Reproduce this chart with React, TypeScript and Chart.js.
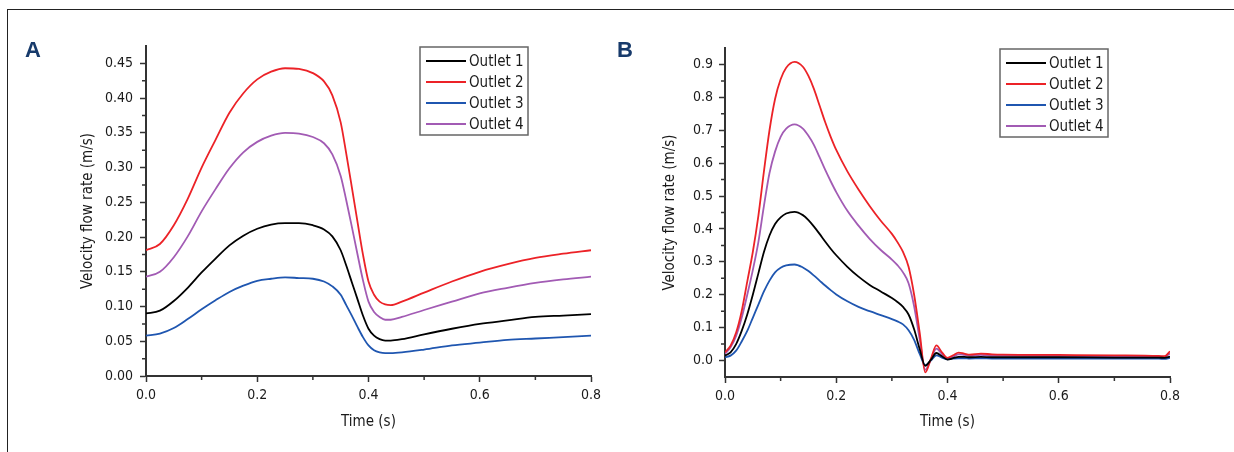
import React, { useEffect, useRef } from 'react';
import { Chart, registerables } from 'chart.js';

Chart.register(...registerables);

const FONT = "'Liberation Sans Narrow', 'DejaVu Sans Condensed', 'Arial Narrow', sans-serif";

const seriesLabels = ['Outlet 1', 'Outlet 2', 'Outlet 3', 'Outlet 4'];
const seriesColors = ['#000000', '#ec2227', '#1f56b0', '#a25bb4'];

// Panel A
const timeA = [0, 0.025, 0.05, 0.075, 0.1, 0.125, 0.15, 0.175, 0.2, 0.225, 0.25, 0.275, 0.3, 0.32, 0.335, 0.35, 0.36, 0.37, 0.38, 0.39, 0.4, 0.41, 0.42, 0.43, 0.44, 0.46, 0.5, 0.55, 0.6, 0.65, 0.7, 0.75, 0.8];
const outlet1A = [0.090, 0.094, 0.108, 0.127, 0.149, 0.169, 0.188, 0.202, 0.212, 0.218, 0.220, 0.220, 0.217, 0.211, 0.201, 0.181, 0.159, 0.135, 0.111, 0.087, 0.068, 0.058, 0.053, 0.051, 0.051, 0.053, 0.060, 0.068, 0.075, 0.080, 0.085, 0.087, 0.089];
const outlet2A = [0.181, 0.190, 0.217, 0.255, 0.300, 0.340, 0.379, 0.407, 0.427, 0.438, 0.443, 0.442, 0.436, 0.424, 0.404, 0.365, 0.320, 0.272, 0.223, 0.175, 0.136, 0.117, 0.107, 0.103, 0.102, 0.107, 0.120, 0.136, 0.150, 0.161, 0.170, 0.176, 0.181];
const outlet3A = [0.058, 0.061, 0.069, 0.082, 0.096, 0.109, 0.121, 0.130, 0.137, 0.140, 0.142, 0.141, 0.140, 0.136, 0.129, 0.117, 0.102, 0.087, 0.071, 0.056, 0.044, 0.037, 0.034, 0.033, 0.033, 0.034, 0.038, 0.044, 0.048, 0.052, 0.054, 0.056, 0.058];
const outlet4A = [0.143, 0.150, 0.171, 0.201, 0.237, 0.269, 0.299, 0.322, 0.337, 0.346, 0.350, 0.349, 0.344, 0.335, 0.319, 0.288, 0.253, 0.215, 0.176, 0.138, 0.107, 0.092, 0.085, 0.081, 0.081, 0.085, 0.095, 0.107, 0.119, 0.127, 0.134, 0.139, 0.143];

// Panel B
const timeB = [0, 0.01, 0.02, 0.03, 0.04, 0.05, 0.06, 0.07, 0.08, 0.09, 0.1, 0.11, 0.125, 0.14, 0.15, 0.16, 0.17, 0.18, 0.19, 0.2, 0.22, 0.24, 0.26, 0.28, 0.3, 0.31, 0.32, 0.33, 0.34, 0.35, 0.36, 0.37, 0.38, 0.39, 0.4, 0.41, 0.42, 0.43, 0.44, 0.46, 0.48, 0.5, 0.6, 0.7, 0.78, 0.79, 0.8];
const outlet1B = [0.015, 0.025, 0.05, 0.09, 0.14, 0.2, 0.265, 0.33, 0.38, 0.415, 0.435, 0.447, 0.452, 0.442, 0.427, 0.407, 0.385, 0.362, 0.34, 0.32, 0.285, 0.255, 0.23, 0.21, 0.19, 0.178, 0.163, 0.14, 0.095, 0.035, -0.016, 0.002, 0.023, 0.013, 0.003, 0.007, 0.011, 0.011, 0.010, 0.011, 0.010, 0.010, 0.010, 0.009, 0.009, 0.008, 0.012];
const outlet2B = [0.025, 0.045, 0.085, 0.15, 0.24, 0.33, 0.44, 0.575, 0.7, 0.795, 0.855, 0.89, 0.908, 0.893, 0.865, 0.825, 0.775, 0.725, 0.68, 0.64, 0.575, 0.52, 0.47, 0.425, 0.385, 0.36, 0.33, 0.285, 0.2, 0.085, -0.036, 0.005, 0.046, 0.025, 0.008, 0.016, 0.024, 0.021, 0.018, 0.021, 0.019, 0.018, 0.017, 0.016, 0.014, 0.013, 0.028];
const outlet3B = [0.01, 0.015, 0.03, 0.058, 0.09, 0.13, 0.17, 0.21, 0.243, 0.268, 0.282, 0.289, 0.292, 0.283, 0.272, 0.258, 0.243, 0.228, 0.214, 0.201, 0.18, 0.163, 0.15, 0.138, 0.126, 0.119, 0.11, 0.092, 0.063, 0.02, -0.014, 0.0, 0.016, 0.009, 0.004, 0.006, 0.007, 0.007, 0.006, 0.007, 0.006, 0.006, 0.006, 0.006, 0.006, 0.005, 0.008];
const outlet4B = [0.02, 0.04, 0.075, 0.13, 0.2, 0.275, 0.36, 0.47, 0.57, 0.635, 0.68, 0.705, 0.718, 0.705, 0.683, 0.655, 0.618, 0.58, 0.545, 0.512, 0.455, 0.41, 0.37, 0.336, 0.307, 0.29, 0.268, 0.235, 0.165, 0.065, -0.028, 0.003, 0.036, 0.02, 0.006, 0.012, 0.019, 0.017, 0.015, 0.017, 0.015, 0.015, 0.014, 0.013, 0.012, 0.011, 0.022];

// Ticks
const xTicks = [0, 0.2, 0.4, 0.6, 0.8];
const xTickLabels = ['0.0', '0.2', '0.4', '0.6', '0.8'];
const xMinorTicks = [0.1, 0.3, 0.5, 0.7];
const yTicksA = [0, 0.05, 0.1, 0.15, 0.2, 0.25, 0.3, 0.35, 0.4, 0.45];
const yTickLabelsA = ['0.00', '0.05', '0.10', '0.15', '0.20', '0.25', '0.30', '0.35', '0.40', '0.45'];
const yMinorTicksA = [0.025, 0.075, 0.125, 0.175, 0.225, 0.275, 0.325, 0.375, 0.425];
const yTicksB = [0, 0.1, 0.2, 0.3, 0.4, 0.5, 0.6, 0.7, 0.8, 0.9];
const yTickLabelsB = ['0.0', '0.1', '0.2', '0.3', '0.4', '0.5', '0.6', '0.7', '0.8', '0.9'];
const yMinorTicksB = [0.05, 0.15, 0.25, 0.35, 0.45, 0.55, 0.65, 0.75, 0.85];

const boxLegend = {
  id: 'boxLegend',
  afterDraw(chart: any, _args: any, opts: any) {
    const { ctx, chartArea } = chart;
    const x = chartArea.right - opts.offsetRight;
    const y = chartArea.top + opts.offsetTop;
    const w = opts.width;
    const h = opts.height;
    ctx.save();
    ctx.fillStyle = '#ffffff';
    ctx.fillRect(x, y, w, h);
    ctx.strokeStyle = '#666666';
    ctx.lineWidth = 1.5;
    ctx.strokeRect(x, y, w, h);
    chart.data.datasets.forEach((ds: any, i: number) => {
      const cy = y + opts.rowStart + i * opts.rowGap;
      ctx.strokeStyle = ds.borderColor;
      ctx.lineWidth = 2;
      ctx.beginPath();
      ctx.moveTo(x + 6, cy);
      ctx.lineTo(x + 46, cy);
      ctx.stroke();
      ctx.fillStyle = '#1a1a1a';
      ctx.font = `15px ${FONT}`;
      ctx.textBaseline = 'middle';
      ctx.textAlign = 'left';
      ctx.fillText(ds.label, x + 49, cy + 1);
    });
    ctx.restore();
  },
};

const minorTicks = {
  id: 'minorTicks',
  afterDraw(chart: any, _args: any, opts: any) {
    const { ctx } = chart;
    const xs = chart.scales.x;
    const ys = chart.scales.y;
    ctx.save();
    ctx.strokeStyle = '#333333';
    ctx.lineWidth = 1.5;
    ctx.beginPath();
    (opts.x || []).forEach((v: number) => {
      const px = xs.getPixelForValue(v);
      ctx.moveTo(px, xs.top);
      ctx.lineTo(px, xs.top + 4);
    });
    (opts.y || []).forEach((v: number) => {
      const py = ys.getPixelForValue(v);
      ctx.moveTo(ys.right - 4, py);
      ctx.lineTo(ys.right, py);
    });
    ctx.stroke();
    ctx.restore();
  },
};

function makeConfig(p: any) {
  return {
    type: 'line',
    data: {
      datasets: p.series.map((ys: number[], i: number) => ({
        label: seriesLabels[i],
        data: p.time.map((t: number, j: number) => ({ x: t, y: ys[j] })),
        borderColor: seriesColors[i],
        backgroundColor: seriesColors[i],
        borderWidth: 1.8,
        pointRadius: 0,
        cubicInterpolationMode: 'monotone',
        fill: false,
      })),
    },
    options: {
      responsive: false,
      animation: false,
      layout: { padding: { left: 0, top: p.padTop, right: p.padRight, bottom: 0 } },
      plugins: {
        legend: { display: false },
        tooltip: { enabled: false },
        boxLegend: { offsetRight: p.legendRight, offsetTop: 1, width: 108, height: 88, rowStart: 14, rowGap: 21 },
        minorTicks: { x: xMinorTicks, y: p.yMinor },
      },
      scales: {
        x: {
          type: 'linear',
          min: 0,
          max: 0.8,
          afterBuildTicks: (s: any) => { s.ticks = xTicks.map((v) => ({ value: v })); },
          afterFit: (s: any) => { s.height = p.xHeight; },
          ticks: {
            callback: (_v: any, i: number) => xTickLabels[i],
            font: { family: FONT, size: 14 },
            color: '#1a1a1a',
            padding: 5,
            maxRotation: 0,
            autoSkip: false,
          },
          grid: { drawOnChartArea: false, tickLength: 6, tickColor: '#333333', tickWidth: 1.5 },
          border: { color: '#333333', width: 2 },
          title: {
            display: true,
            text: 'Time (s)',
            font: { family: FONT, size: 15 },
            color: '#1a1a1a',
            padding: { top: 0, bottom: 21 },
          },
        },
        y: {
          type: 'linear',
          min: p.yMin,
          max: p.yMax,
          afterBuildTicks: (s: any) => { s.ticks = p.yTicks.map((v: number) => ({ value: v })); },
          afterFit: (s: any) => { s.width = p.yWidth; },
          ticks: {
            callback: (_v: any, i: number) => p.yLabels[i],
            font: { family: FONT, size: 14 },
            color: '#1a1a1a',
            padding: p.yTickPad,
            autoSkip: false,
          },
          grid: { drawOnChartArea: false, tickLength: 6, tickColor: '#333333', tickWidth: 1.5 },
          border: { color: '#333333', width: 2 },
          title: {
            display: true,
            text: 'Velocity flow rate (m/s)',
            font: { family: FONT, size: 15 },
            color: '#1a1a1a',
            padding: { top: p.yTitlePad, bottom: 0 },
          },
        },
      },
    },
    plugins: [boxLegend, minorTicks],
  };
}

function Panel(props: { p: any; left: number; width: number }) {
  const ref = useRef<HTMLCanvasElement>(null);
  useEffect(() => {
    if (!ref.current) return;
    const chart = new Chart(ref.current, makeConfig(props.p) as any);
    return () => chart.destroy();
  }, []);
  return (
    <canvas
      ref={ref}
      width={props.width}
      height={452}
      style={{ position: 'absolute', left: props.left, top: 0, width: props.width, height: 452 }}
    />
  );
}

const panelA = {
  time: timeA,
  series: [outlet1A, outlet2A, outlet3A, outlet4A],
  yMin: 0,
  yMax: 0.475,
  yTicks: yTicksA,
  yLabels: yTickLabelsA,
  yMinor: yMinorTicksA,
  padTop: 46,
  padRight: 19,
  xHeight: 76,
  yWidth: 146,
  yTickPad: 7,
  yTitlePad: 79,
  legendRight: 171,
};

const panelB = {
  time: timeB,
  series: [outlet1B, outlet2B, outlet3B, outlet4B],
  yMin: -0.05,
  yMax: 0.95,
  yTicks: yTicksB,
  yLabels: yTickLabelsB,
  yMinor: yMinorTicksB,
  padTop: 48,
  padRight: 64,
  xHeight: 75,
  yWidth: 115,
  yTickPad: 6,
  yTitlePad: 51,
  legendRight: 170,
};

const letterStyle: React.CSSProperties = {
  position: 'absolute',
  top: 39,
  fontFamily: "'Liberation Sans', Arial, sans-serif",
  fontWeight: 'bold',
  fontSize: 22,
  lineHeight: '22px',
  color: '#173a6b',
};

export default function App() {
  return (
    <div style={{ position: 'fixed', left: 0, top: 0, width: 1234, height: 452, background: '#ffffff', overflow: 'hidden' }}>
      <div
        style={{
          position: 'absolute',
          left: 7,
          top: 9,
          right: -2,
          bottom: -2,
          borderLeft: '1.5px solid #222',
          borderTop: '1.5px solid #222',
        }}
      />
      <Panel p={panelA} left={0} width={610} />
      <Panel p={panelB} left={610} width={624} />
      <div style={{ ...letterStyle, left: 25 }}>A</div>
      <div style={{ ...letterStyle, left: 617 }}>B</div>
    </div>
  );
}
